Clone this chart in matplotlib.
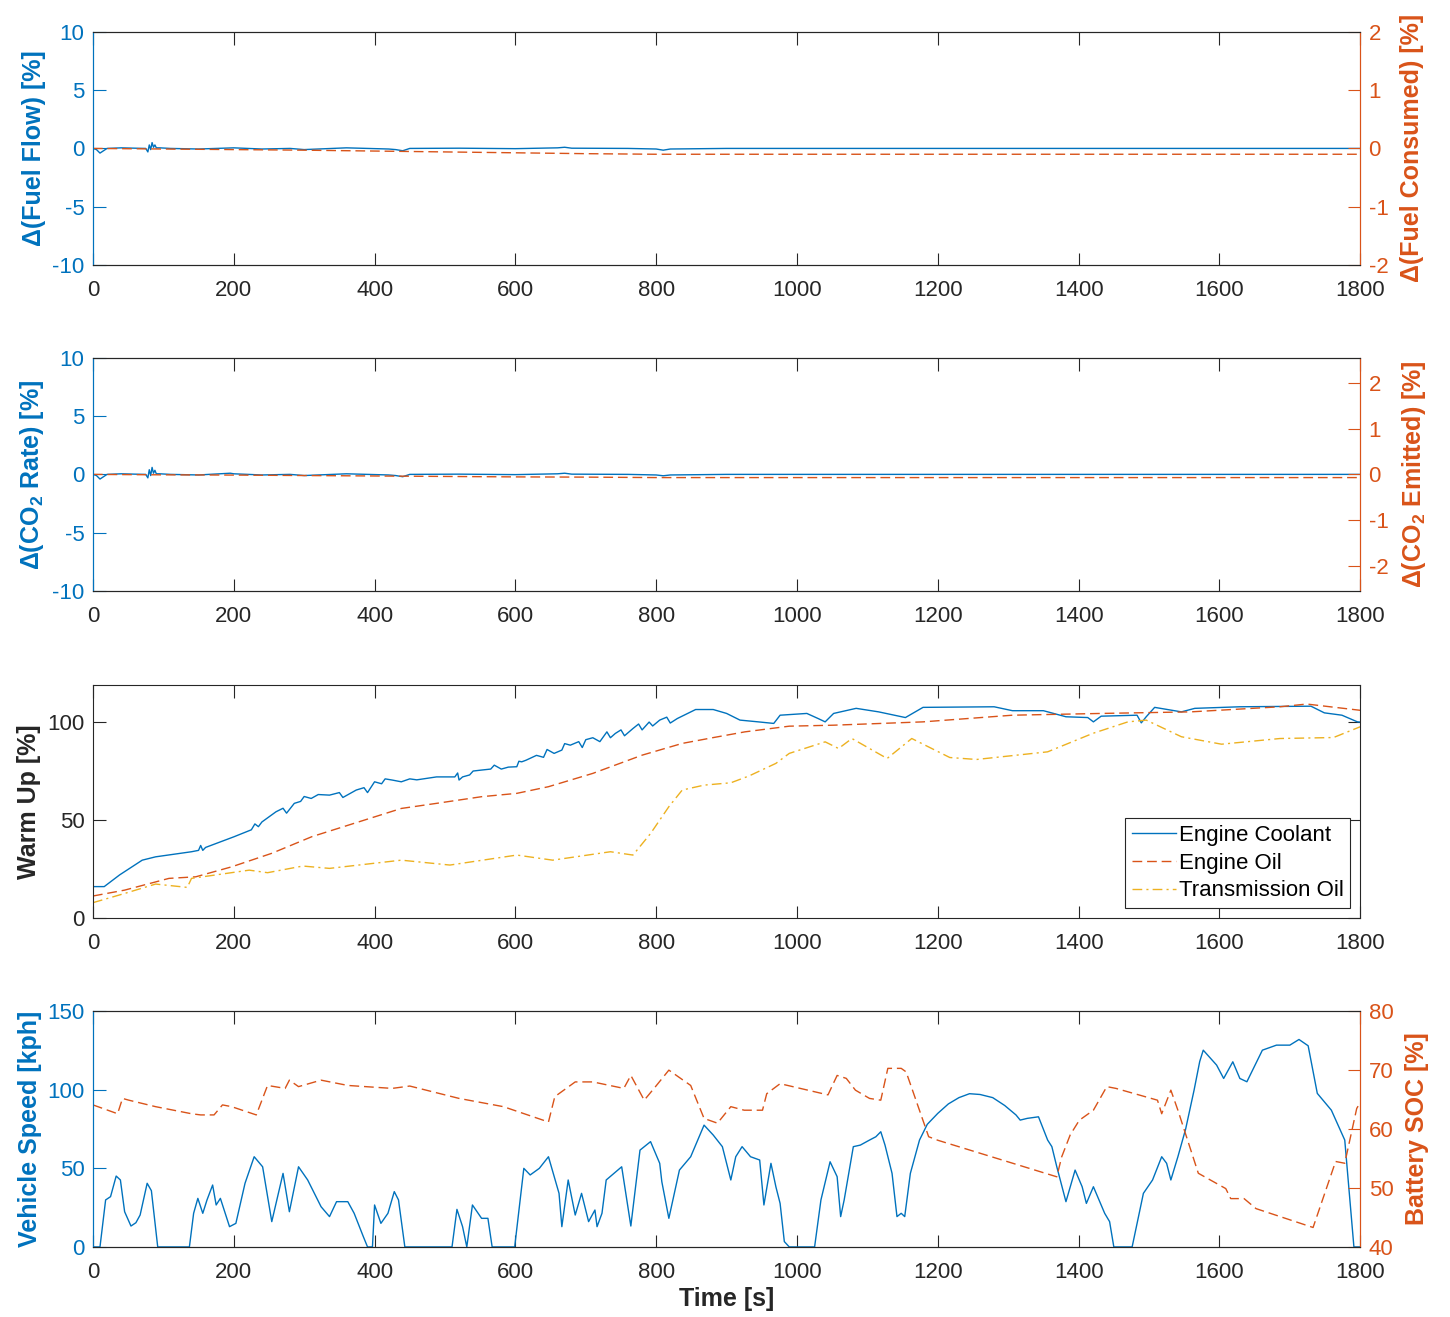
import matplotlib
matplotlib.use("Agg")
import matplotlib.pyplot as plt

BLUE = "#0072BD"
ORANGE = "#D95319"
YELLOW = "#EDB120"
DARK = "#262626"

plt.rcParams["font.family"] = ["Liberation Sans", "DejaVu Sans"]
plt.rcParams["mathtext.fontset"] = "custom"
plt.rcParams["mathtext.rm"] = "Liberation Sans:bold"
plt.rcParams["mathtext.default"] = "rm"
plt.rcParams["axes.unicode_minus"] = False

# --- panel 1: fuel ---
t_flow = [0, 5, 10, 15, 20, 40, 60, 75, 78, 80, 82, 84, 86, 88, 90, 95, 110, 150, 200,
          240, 280, 300, 360, 420, 430, 440, 450, 520, 600, 660, 670, 680, 760, 800, 810,
          820, 900, 1000, 1800]
d_flow = [0, -0.1, -0.4, -0.2, 0, 0.05, 0.02, 0, -0.3, 0.3, -0.1, 0.5, 0.1, 0.3, 0.05,
          0.05, 0, -0.05, 0.05, -0.05, 0, -0.1, 0.05, -0.05, -0.1, -0.2, 0, 0.02, -0.02,
          0.05, 0.1, 0.02, 0, -0.05, -0.15, -0.05, 0, 0, 0]
t_cons = [0, 100, 200, 300, 400, 500, 600, 700, 800, 900, 1800]
d_cons = [0, -0.01, -0.02, -0.03, -0.045, -0.06, -0.075, -0.09, -0.1, -0.1, -0.1]

# --- panel 2: CO2 ---
t_co2 = [0, 5, 10, 15, 20, 40, 60, 75, 78, 80, 82, 84, 86, 88, 90, 95, 110, 150, 195,
         200, 240, 280, 300, 360, 420, 430, 440, 450, 520, 600, 660, 670, 680, 760, 800,
         810, 820, 900, 1000, 1800]
d_co2 = [0, -0.1, -0.4, -0.2, 0, 0.05, 0.02, 0, -0.3, 0.4, -0.1, 0.6, 0.1, 0.35, 0.05,
         0.05, 0, -0.05, 0.1, 0.05, -0.05, 0, -0.1, 0.05, -0.05, -0.1, -0.2, 0, 0.02,
         -0.02, 0.05, 0.1, 0.02, 0, -0.05, -0.12, -0.05, 0, 0, 0]
t_emit = [0, 100, 200, 300, 400, 500, 600, 700, 800, 900, 1800]
d_emit = [0, -0.01, -0.015, -0.025, -0.035, -0.045, -0.055, -0.06, -0.07, -0.07, -0.07]

# --- panel 3: warm up ---
t_cool = [0, 16, 38, 70, 89, 140, 150, 153, 156, 160, 200, 225, 230, 235, 240, 260, 270,
          275, 286, 295, 300, 310, 320, 336, 350, 355, 374, 385, 390, 400, 410, 415, 425,
          438, 450, 460, 488, 514, 518, 520, 525, 535, 540, 552, 565, 570, 580, 590, 602,
          605, 609, 615, 630, 640, 645, 655, 666, 670, 678, 690, 695, 700, 710, 720, 730,
          735, 742, 750, 755, 767, 775, 780, 790, 795, 805, 815, 820, 830, 856, 881, 900,
          919, 945, 967, 976, 1014, 1030, 1040, 1052, 1084, 1116, 1154, 1179, 1280, 1306,
          1350, 1382, 1413, 1421, 1432, 1483, 1489, 1496, 1508, 1546, 1565, 1629, 1730,
          1749, 1774, 1796, 1800]
warm_cool = [16, 16, 22, 29.5, 31.2, 33.8, 34.5, 37, 34.5, 36, 41.4, 45, 48, 46.6, 49,
             54.2, 56, 53.5, 58.5, 59.5, 62, 61, 63, 62.7, 64, 61.5, 65.3, 66.5, 64, 69.5,
             68.5, 71, 70.4, 69.5, 71, 70.5, 72, 72, 74, 70.4, 72, 73, 75, 75.5, 76, 78,
             76, 77, 77.2, 80, 79.7, 80.5, 83, 82, 86, 84, 85.7, 89, 88.2, 90, 87, 91, 92,
             90, 95, 92, 94.2, 96, 93, 96.7, 99, 96, 100, 98, 101, 102.5, 99.5, 101.8,
             106.4, 106.4, 104.4, 101, 100.1, 99.3, 103.5, 104.4, 101.8, 100.1, 104.4, 107,
             105.2, 102.3, 107.5, 107.8, 105.8, 105.8, 102.7, 102.3, 100.1, 103, 103.5,
             99.6, 102.7, 107.5, 105.2, 107, 107.8, 108.1, 104.7, 103.5, 100.1, 100]
t_eoil = [0, 45, 108, 146, 197, 254, 311, 393, 438, 488, 552, 602, 647, 710, 780, 837,
          880, 926, 989, 1052, 1179, 1306, 1432, 1559, 1686, 1724, 1800]
warm_eoil = [11.2, 14.2, 20.2, 21, 26.1, 33, 41.5, 50.8, 55.9, 58.5, 61.9, 63.6, 67, 73.8,
             83.1, 89.1, 92, 95, 97.9, 98.4, 100.1, 103.5, 104.4, 105.2, 107.8, 109.2,
             106]
t_toil = [0, 45, 89, 134, 140, 222, 248, 298, 336, 438, 507, 602, 653, 735, 767, 792, 818,
          837, 868, 906, 932, 970, 989, 1040, 1059, 1078, 1128, 1163, 1217, 1255, 1356,
          1420, 1470, 1496, 1546, 1603, 1686, 1762, 1800]
warm_toil = [7.8, 12.5, 17.3, 15.6, 20.2, 24.4, 23.1, 26.5, 25.3, 29.5, 27, 32.1, 29.5,
             33.8, 32.1, 43.1, 56.8, 65.3, 67.8, 69, 72.5, 78.9, 84, 89.9, 86.5, 91.6,
             81.4, 91.6, 81.9, 80.9, 84.8, 94.2, 100.1, 101, 92.5, 88.7, 91.6, 92.1, 97.6]

# --- panel 4: speed and SOC ---
t_speed = [0, 10, 18, 25, 33, 39, 45, 54, 61, 67, 77, 83, 92, 137, 143, 149, 156, 162, 170,
           175, 181, 194, 203, 216, 229, 241, 254, 270, 279, 292, 305, 324, 336, 346, 362,
           371, 384, 390, 397, 400, 409, 419, 428, 434, 443, 510, 517, 525, 531, 539, 552,
           561, 567, 599, 612, 621, 634, 647, 662, 666, 675, 685, 694, 704, 713, 716, 723,
           729, 751, 764, 777, 792, 805, 808, 818, 833, 849, 868, 881, 894, 906, 913, 922,
           934, 947, 953, 963, 970, 976, 982, 989, 1025, 1034, 1047, 1057, 1062, 1067,
           1080, 1090, 1103, 1112, 1119, 1125, 1135, 1142, 1148, 1153, 1161, 1174, 1185,
           1200, 1215, 1230, 1245, 1260, 1278, 1295, 1311, 1317, 1327, 1343, 1356, 1362,
           1369, 1382, 1395, 1405, 1411, 1421, 1427, 1437, 1444, 1450, 1476, 1492, 1505,
           1518, 1525, 1531, 1541, 1552, 1564, 1572, 1577, 1596, 1606, 1619, 1629, 1639,
           1661, 1681, 1700, 1713, 1726, 1739, 1759, 1778, 1791, 1800]
speed = [0, 0, 29.9, 32, 45.1, 42.6, 22.4, 13.3, 15.4, 20.3, 40.5, 35.8, 0, 0, 21.4, 30.9,
         21.4, 29.9, 39.4, 26.7, 30.9, 12.9, 15, 40.5, 57.4, 51, 16.1, 46.8, 22.4, 51,
         42.6, 25.6, 19.3, 28.8, 28.8, 21.4, 6.6, 0, 0, 26.7, 15, 21.4, 35.2, 29.9, 0, 0,
         23.9, 12.9, 0, 26.7, 18.2, 18.2, 0, 0, 50, 45.8, 50, 57.4, 34.1, 12.9, 42.6, 20.3,
         34.1, 16.1, 23.5, 12.9, 21.4, 42.6, 51, 13.3, 61.6, 67, 53.2, 41.5, 18.2, 48.9,
         57.4, 77.5, 71.2, 63.8, 42.6, 57.4, 63.8, 57.4, 55.3, 26.7, 53.2, 38.3, 27.7,
         3.4, 0, 0, 29.9, 54.2, 44.7, 19.3, 29.9, 63.8, 64.8, 68, 70.1, 73.3, 64.8, 46.8,
         19.3, 21.4, 19.3, 46.8, 68, 78, 85, 91, 95, 97.5, 97, 95, 90, 84, 80.7, 81.8,
         82.8, 68, 63.8, 51, 28.8, 48.9, 38.3, 27.7, 38.3, 32, 21.4, 16.1, 0, 0, 34.1,
         42.6, 57.4, 53.2, 42.6, 57.4, 75, 99.8, 118, 125.2, 115.7, 107.2, 117.8, 107.2,
         105.1, 125.2, 128.4, 128.4, 132, 128, 97.7, 87, 68, 0, 0]
t_soc = [0, 35, 42, 51, 89, 140, 153, 172, 184, 197, 232, 248, 273, 279, 292, 324, 362,
         425, 450, 520, 583, 647, 656, 685, 710, 754, 764, 783, 799, 818, 849, 868, 887,
         906, 925, 951, 957, 976, 1044, 1057, 1070, 1083, 1103, 1119, 1129, 1148, 1155,
         1187, 1200, 1369, 1376, 1388, 1401, 1421, 1440, 1453, 1512, 1518, 1531, 1541,
         1570, 1609, 1616, 1635, 1652, 1733, 1765, 1778, 1795, 1800]
soc = [64.1, 62.6, 65.2, 64.9, 63.8, 62.6, 62.4, 62.4, 64.1, 63.8, 62.4, 67.4, 66.9, 68.3,
       67.2, 68.3, 67.4, 66.9, 67.3, 65.2, 63.8, 61.2, 65.5, 68, 68, 66.9, 69.1, 64.9,
       67.2, 70, 67.4, 61.8, 61, 63.8, 63.2, 63.2, 66, 67.7, 65.8, 69.1, 68.6, 66.6, 65.2,
       64.9, 70.3, 70.3, 69.7, 58.7, 58.1, 51.9, 55.3, 59, 61.5, 63.2, 67.2, 66.9, 64.9,
       62.6, 66.6, 63.2, 52.5, 49.9, 48.2, 48.2, 46.5, 43.3, 54.5, 54.2, 63.5, 64.5]

DASH = (0, (7, 3.5))
DASHDOT = (0, (7, 3, 1.5, 3))
TICK = dict(direction="in", length=9, labelsize=16)


def style_twin(ax, ax2):
    for a in (ax, ax2):
        a.spines["left"].set_color(BLUE)
        a.spines["right"].set_color(ORANGE)
        a.spines["top"].set_color(DARK)
        a.spines["bottom"].set_color(DARK)
    ax.set_xlim(0, 1800)
    ax.set_xticks(range(0, 1801, 200))
    ax.tick_params(axis="x", top=True, colors=DARK, pad=11, **TICK)
    ax.tick_params(axis="y", colors=BLUE, pad=6, **TICK)
    ax2.tick_params(axis="y", colors=ORANGE, pad=6, **TICK)


fig = plt.figure(figsize=(14.5, 13.17), dpi=100)
L, W = 0.0641, 0.874

# panel 1
ax = fig.add_axes([L, 0.7988, W, 0.177])
ax2 = ax.twinx()
ax.plot(t_flow, d_flow, color=BLUE, lw=1)
ax2.plot(t_cons, d_cons, color=ORANGE, lw=1, ls=DASH)
ax.set_ylim(-10, 10)
ax.set_yticks([-10, -5, 0, 5, 10])
ax2.set_ylim(-2, 2)
ax2.set_yticks([-2, -1, 0, 1, 2])
style_twin(ax, ax2)
ax.set_ylabel("Δ(Fuel Flow) [%]", color=BLUE, fontsize=18, fontweight="bold")
ax2.set_ylabel("Δ(Fuel Consumed) [%]", color=ORANGE, fontsize=18, fontweight="bold")
ax.yaxis.set_label_coords(-0.037, 0.5)
ax2.yaxis.set_label_coords(1.031, 0.5)

# panel 2
ax = fig.add_axes([L, 0.5513, W, 0.177])
ax2 = ax.twinx()
ax.plot(t_co2, d_co2, color=BLUE, lw=1)
ax2.plot(t_emit, d_emit, color=ORANGE, lw=1, ls=DASH)
ax.set_ylim(-10, 10)
ax.set_yticks([-10, -5, 0, 5, 10])
ax2.set_ylim(-2.55, 2.55)
ax2.set_yticks([-2, -1, 0, 1, 2])
style_twin(ax, ax2)
ax.set_ylabel("Δ(CO$_2$ Rate) [%]", color=BLUE, fontsize=18, fontweight="bold")
ax2.set_ylabel("Δ(CO$_2$ Emitted) [%]", color=ORANGE, fontsize=18, fontweight="bold")
ax.yaxis.set_label_coords(-0.037, 0.5)
ax2.yaxis.set_label_coords(1.031, 0.5)

# panel 3
ax = fig.add_axes([L, 0.3030, W, 0.177])
ax.plot(t_cool, warm_cool, color=BLUE, lw=1, label="Engine Coolant")
ax.plot(t_eoil, warm_eoil, color=ORANGE, lw=1, ls=DASH, label="Engine Oil")
ax.plot(t_toil, warm_toil, color=YELLOW, lw=1, ls=DASHDOT, label="Transmission Oil")
ax.set_xlim(0, 1800)
ax.set_xticks(range(0, 1801, 200))
ax.set_ylim(0, 119)
ax.set_yticks([0, 50, 100])
for s in ax.spines.values():
    s.set_color(DARK)
ax.tick_params(axis="x", top=True, colors=DARK, pad=11, **TICK)
ax.tick_params(axis="y", right=True, colors=DARK, pad=6, **TICK)
ax.set_ylabel("Warm Up [%]", color=DARK, fontsize=18, fontweight="bold")
ax.yaxis.set_label_coords(-0.041, 0.5)
leg = ax.legend(loc="lower right", fontsize=16, frameon=True, fancybox=False,
                framealpha=1, edgecolor=DARK, handlelength=2.0, handletextpad=0.1,
                labelspacing=0.3, borderpad=0.3, borderaxespad=0.45)
leg.get_frame().set_linewidth(0.8)

# panel 4
ax = fig.add_axes([L, 0.0532, W, 0.179])
ax2 = ax.twinx()
ax.plot(t_speed, speed, color=BLUE, lw=1)
ax2.plot(t_soc, soc, color=ORANGE, lw=1, ls=DASH)
ax.set_ylim(0, 150)
ax.set_yticks([0, 50, 100, 150])
ax2.set_ylim(40, 80)
ax2.set_yticks([40, 50, 60, 70, 80])
style_twin(ax, ax2)
ax.set_ylabel("Vehicle Speed [kph]", color=BLUE, fontsize=18, fontweight="bold")
ax2.set_ylabel("Battery SOC [%]", color=ORANGE, fontsize=18, fontweight="bold")
ax.yaxis.set_label_coords(-0.040, 0.5)
ax2.yaxis.set_label_coords(1.0355, 0.5)
ax.set_xlabel("Time [s]", color=DARK, fontsize=18, fontweight="bold")
ax.xaxis.set_label_coords(0.5, -0.17)

fig.savefig("out.png", dpi=100, facecolor="white")
